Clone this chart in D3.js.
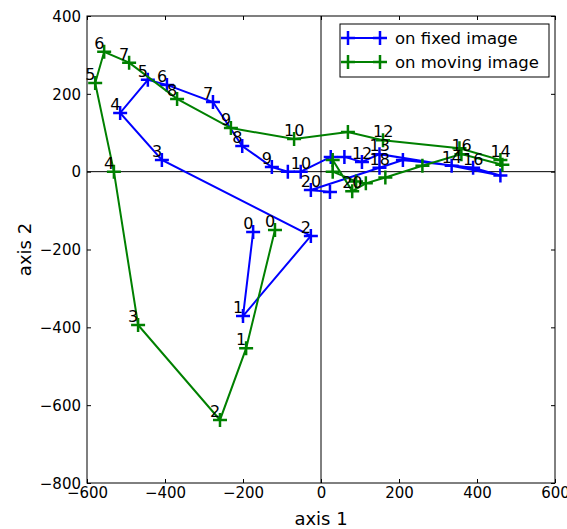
<!DOCTYPE html>
<html>
<head>
<meta charset="utf-8">
<script src="https://cdn.jsdelivr.net/npm/d3@7"></script>
<style>
  body { margin: 0; background: #fff; }
  text { font-family: "DejaVu Sans", sans-serif; }
</style>
</head>
<body>
<div id="chart"></div>
<script>
/* data */
var fixedX = [-174, -200, -26, -408, -515, -444, -395, -277, -202, -126, -85, -52, 25, 60, 105, 150, 335, 460, 390, 210, 150, -26, 23];
var fixedY = [-155, -371, -165, 30, 151, 236, 223, 179, 66, 12, 0, 0, 38, 38, 25, 45, 15, -10, 10, 30, 10, -47, -52];
var fixedLabels = ["0", "1", "2", "3", "4", "5", "6", "7", "8", "9", "", "10", "", "", "12", "13", "14", "", "16", "", "18", "20", ""];

var movingX = [-118, -192, -259, -469, -531, -579, -556, -492, -369, -231, -69, 69, 159, 355, 460, 465, 360, 260, 165, 115, 80, 30, 30, 90];
var movingY = [-150, -454, -638, -394, 0, 228, 308, 280, 187, 112, 84, 102, 81, 60, 30, 18, 45, 15, -15, -30, -50, 30, 0, -25];
var movingLabels = ["0", "1", "2", "3", "4", "5", "6", "7", "8", "9", "10", "", "12", "", "14", "", "16", "", "", "", "20", "", "", ""];

var xTicks = [-600, -400, -200, 0, 200, 400, 600];
var yTicks = [-800, -600, -400, -200, 0, 200, 400];

var seriesNames = ["on fixed image", "on moving image"];
var seriesColors = ["#0000ff", "#008000"];

var W = 567, H = 529;
var margin = { left: 87, right: 12, top: 16, bottom: 46 };

var svg = d3.select("#chart").append("svg")
  .attr("width", W).attr("height", H);

var x = d3.scaleLinear().domain([-600, 600]).range([margin.left, W - margin.right]);
var y = d3.scaleLinear().domain([-800, 400]).range([H - margin.bottom, margin.top]);

var fmt = function(d) { return d < 0 ? "\u2212" + Math.abs(d) : String(d); };

/* zero lines */
svg.append("line")
  .attr("x1", x(-600)).attr("x2", x(600))
  .attr("y1", y(0)).attr("y2", y(0))
  .attr("stroke", "#000").attr("stroke-width", 1);
svg.append("line")
  .attr("x1", x(0)).attr("x2", x(0))
  .attr("y1", y(-800)).attr("y2", y(400))
  .attr("stroke", "#000").attr("stroke-width", 1);

/* series */
var series = [
  { xs: fixedX, ys: fixedY, labels: fixedLabels },
  { xs: movingX, ys: movingY, labels: movingLabels }
];

var line = d3.line().x(d => x(d.x)).y(d => y(d.y));

series.forEach(function(s, k) {
  var pts = s.xs.map((v, i) => ({ x: v, y: s.ys[i], label: s.labels[i] }));
  var g = svg.append("g");
  g.append("path")
    .attr("d", line(pts))
    .attr("fill", "none")
    .attr("stroke", seriesColors[k])
    .attr("stroke-width", 2);
  g.selectAll(".mk")
    .data(pts)
    .enter()
    .append("path")
    .attr("d", d => `M${x(d.x) - 7},${y(d.y)}h14M${x(d.x)},${y(d.y) - 7}v14`)
    .attr("stroke", seriesColors[k])
    .attr("stroke-width", 2.5);
});

/* index labels on top */
series.forEach(function(s, k) {
  var pts = s.xs.map((v, i) => ({ x: v, y: s.ys[i], label: s.labels[i] }));
  svg.append("g").selectAll("text")
    .data(pts.filter(d => d.label !== ""))
    .enter()
    .append("text")
    .attr("x", d => x(d.x) - 10)
    .attr("y", d => y(d.y) - 3)
    .attr("font-size", 16)
    .attr("fill", "#000")
    .text(d => d.label);
});

/* axes, ticks inside on all sides */
var axBottom = svg.append("g")
  .attr("transform", `translate(0,${H - margin.bottom})`)
  .call(d3.axisBottom(x).tickValues(xTicks).tickSizeInner(-4).tickSizeOuter(0).tickPadding(6).tickFormat(fmt));
var axTop = svg.append("g")
  .attr("transform", `translate(0,${margin.top})`)
  .call(d3.axisTop(x).tickValues(xTicks).tickSizeInner(-4).tickSizeOuter(0).tickFormat(""));
var axLeft = svg.append("g")
  .attr("transform", `translate(${margin.left},0)`)
  .call(d3.axisLeft(y).tickValues(yTicks).tickSizeInner(-4).tickSizeOuter(0).tickPadding(6).tickFormat(fmt));
var axRight = svg.append("g")
  .attr("transform", `translate(${W - margin.right},0)`)
  .call(d3.axisRight(y).tickValues(yTicks).tickSizeInner(-4).tickSizeOuter(0).tickFormat(""));

[axBottom, axTop, axLeft, axRight].forEach(function(a) {
  a.select(".domain").remove();
  a.selectAll("text").attr("font-size", 15).attr("fill", "#000").attr("font-family", "DejaVu Sans, sans-serif");
  a.selectAll("line").attr("stroke", "#000");
});
axBottom.selectAll("text").attr("dy", "0.6em");
axLeft.selectAll("text").attr("dy", "0.35em");

svg.append("rect")
  .attr("x", x(-600)).attr("y", y(400))
  .attr("width", x(600) - x(-600)).attr("height", y(-800) - y(400))
  .attr("fill", "none").attr("stroke", "#000").attr("stroke-width", 1);

/* axis titles */
svg.append("text")
  .attr("x", x(0)).attr("y", H - 4)
  .attr("text-anchor", "middle").attr("font-size", 18)
  .text("axis 1");
svg.append("text")
  .attr("transform", `translate(31,${(y(400) + y(-800)) / 2}) rotate(-90)`)
  .attr("text-anchor", "middle").attr("font-size", 18)
  .text("axis 2");

/* legend */
var lg = svg.append("g").attr("transform", "translate(340,24)");
lg.append("rect")
  .attr("width", 209).attr("height", 53)
  .attr("fill", "#fff").attr("stroke", "#000").attr("stroke-width", 1);
seriesNames.forEach(function(name, k) {
  var yy = 14 + k * 24;
  lg.append("line")
    .attr("x1", 8).attr("x2", 40).attr("y1", yy).attr("y2", yy)
    .attr("stroke", seriesColors[k]).attr("stroke-width", 2);
  [8, 40].forEach(function(xx) {
    lg.append("path")
      .attr("d", `M${xx - 7},${yy}h14M${xx},${yy - 7}v14`)
      .attr("stroke", seriesColors[k]).attr("stroke-width", 2.5);
  });
  lg.append("text")
    .attr("x", 55).attr("y", yy + 6)
    .attr("font-size", 16.5)
    .text(name);
});
</script>
</body>
</html>
